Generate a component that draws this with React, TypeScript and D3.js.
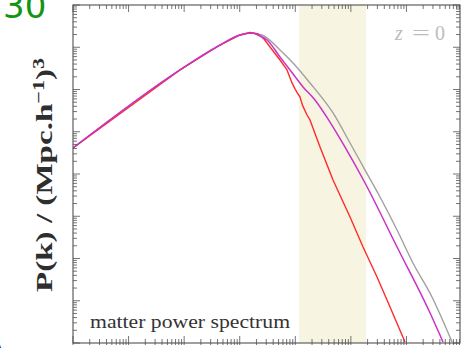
import React from "react";
import * as d3 from "d3";

// Matter power spectrum P(k) at z = 0 for three models
const grayK = [1e-5, 8.41e-4, 4.42e-3, 1.01e-2, 1.66e-2, 2.13e-2, 2.52e-2, 5.31e-2, 9.1e-2, 0.184, 0.478, 0.966, 1.8, 3.35, 6.78, 13.1, 28.8, 66.1];
const grayP = [41.2, 2900, 11300, 19500, 21700, 20600, 19500, 8610, 4240, 1430, 278, 54.2, 12.4, 2.86, 0.473, 0.0782, 0.01227, 1.06e-3];

const magentaK = [1e-5, 8.41e-4, 4.42e-3, 1.01e-2, 1.66e-2, 2.317e-2, 3.097e-2, 5.31e-2, 8.04e-2, 0.1377, 0.226, 0.418, 0.776, 1.8, 6.78, 26.5, 45.5];
const magentaP = [41.2, 2900, 11300, 19500, 21700, 18450, 14860, 5875, 2900, 1150, 566, 172, 44.5, 6.12, 0.187, 5.2e-3, 1.06e-3];

const redK = [1e-5, 8.41e-4, 4.42e-3, 1.01e-2, 1.531e-2, 2.13e-2, 2.735e-2, 3.508e-2, 5.31e-2, 7.1e-2, 8.73e-2, 0.1, 0.1085, 0.1216, 0.135, 0.1626, 0.184, 0.2786, 0.4775, 0.966, 1.656, 2.958, 5.07, 9.42];
const redP = [41.2, 2900, 11300, 19500, 22340, 20600, 15670, 10140, 4990, 2900, 1430, 1010, 830, 664, 420, 249, 190, 43.6, 7.21, 0.959, 0.187, 0.0365, 7.11e-3, 1.06e-3];

// Highlighted k-range
const bandK = [0.1167, 1.875];

const xDomain = [1e-5, 92];
const yDomain = [1e-3, 1e5];

const W = 467;
const H = 348;
const L = 73;
const R = 460;
const T = 5;
const B = 343;

const isDecade = (v: number) => Math.abs(Math.log10(v) - Math.round(Math.log10(v))) < 1e-6;

export default function App() {
  const x = d3.scaleLog().domain(xDomain).range([L, R]);
  const y = d3.scaleLog().domain(yDomain).range([B, T]);

  const toPts = (ks: number[], ps: number[]) => ks.map((k, i) => [k, ps[i]] as [number, number]);
  const smooth = d3
    .line<[number, number]>()
    .x((d) => x(d[0]))
    .y((d) => y(d[1]))
    .curve(d3.curveMonotoneX);
  const straight = d3
    .line<[number, number]>()
    .x((d) => x(d[0]))
    .y((d) => y(d[1]));

  const xTicks = x.ticks(20).filter((t) => t >= xDomain[0] && t <= xDomain[1]);
  const yTicks = y.ticks(20).filter((t) => t >= yDomain[0] && t <= yDomain[1]);
  const axisColor = "#505050";

  return (
    <svg width={W} height={H} style={{ position: "absolute", left: 0, top: 0, background: "#fff" }}>
      <defs>
        <clipPath id="plot">
          <rect x={L} y={T} width={R - L} height={B - T} />
        </clipPath>
      </defs>
      <rect x={0} y={0} width={W} height={H} fill="#fff" />
      <rect x={x(bandK[0])} y={T} width={x(bandK[1]) - x(bandK[0])} height={B - T} fill="#f7f5e2" />

      <g clipPath="url(#plot)" fill="none" strokeLinejoin="round">
        <path d={smooth(toPts(grayK, grayP)) || ""} stroke="#a0a0a0" strokeWidth={1.4} />
        <path d={straight(toPts(redK, redP)) || ""} stroke="#ff2a2a" strokeWidth={1.4} />
        <path d={smooth(toPts(magentaK, magentaP)) || ""} stroke="#c832c8" strokeWidth={1.5} />
      </g>

      {/* frame */}
      <rect x={L} y={T} width={R - L} height={B - T} fill="none" stroke={axisColor} strokeWidth={1.1} />

      {/* ticks on all four sides */}
      <g stroke={axisColor} strokeWidth={0.8}>
        {xTicks.map((t, i) => {
          const len = isDecade(t) ? 7 : 4;
          const px = x(t);
          return (
            <g key={"x" + i}>
              <line x1={px} x2={px} y1={B + 2} y2={B - len} />
              <line x1={px} x2={px} y1={T} y2={T + len} />
            </g>
          );
        })}
        {yTicks.map((t, i) => {
          const len = isDecade(t) ? 7 : 4;
          const py = y(t);
          return (
            <g key={"y" + i}>
              <line x1={L} x2={L + len} y1={py} y2={py} />
              <line x1={R} x2={R - len} y1={py} y2={py} />
            </g>
          );
        })}
      </g>

      {/* annotations */}
      <g fontFamily="'Liberation Serif', 'DejaVu Serif', serif" fill="#bcbcbc" fontSize={20}>
        <text x={395} y={40} fontStyle="italic">z</text>
        <text x={412} y={40} textLength={18} lengthAdjust="spacingAndGlyphs">=</text>
        <text x={435} y={40}>0</text>
      </g>
      <text
        x={90}
        y={328}
        fontFamily="'Liberation Serif', 'DejaVu Serif', serif"
        fontSize={18}
        fill="#333"
        textLength={200}
        lengthAdjust="spacingAndGlyphs"
      >
        matter power spectrum
      </text>

      {/* y-axis label */}
      <text
        transform="translate(52,175) rotate(-90)"
        textAnchor="middle"
        fontFamily="'Liberation Serif', 'DejaVu Serif', serif"
        fontWeight="bold"
        fontSize={24}
        fill="#2e2e2e"
        textLength={234}
        lengthAdjust="spacingAndGlyphs"
      >
        P(k) / (Mpc.h
        <tspan baselineShift="super" fontSize={16}>−1</tspan>
        <tspan>)</tspan>
        <tspan baselineShift="super" fontSize={16}>3</tspan>
      </text>

      {/* page fragments at the corners */}
      <text x={3} y={18} fontFamily="'DejaVu Sans', sans-serif" fontSize={34} fill="#129512">30</text>
      <text x={-14} y={362} fontFamily="'DejaVu Sans', sans-serif" fontSize={30} fill="#1a1aee">A</text>
    </svg>
  );
}
